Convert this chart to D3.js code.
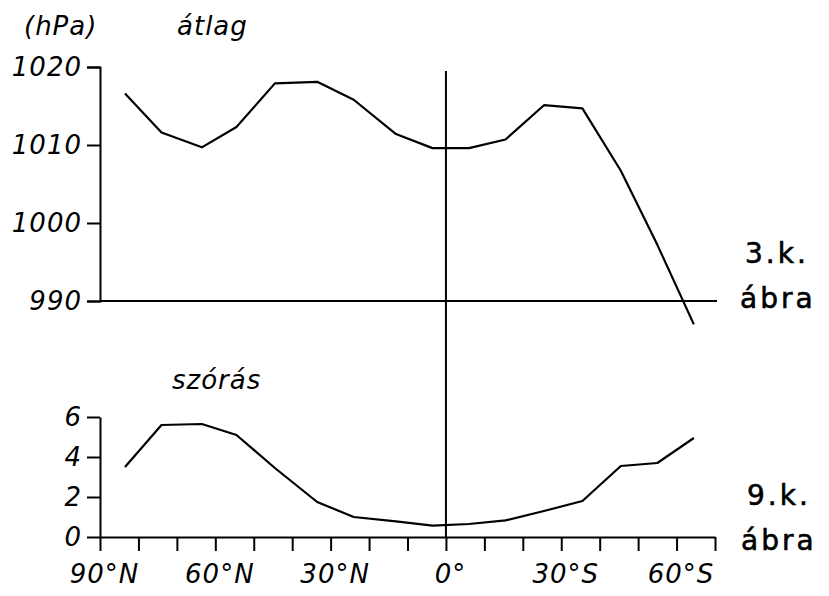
<html>
<head>
<meta charset="utf-8">
<script src="https://d3js.org/d3.v7.min.js"></script>
<style>
 body { margin: 0; background: #fff; }
 .lbl { font-family: "DejaVu Sans", sans-serif; font-style: oblique; font-size: 26px; letter-spacing: 1px; fill: #000; }
 .hand { font-family: "DejaVu Sans", sans-serif; font-size: 28px; letter-spacing: 3px; fill: #000; stroke: #000; stroke-width: 0.6px; }
 .axis path, .axis line { stroke: #000; stroke-width: 2px; }
 .axis text { font-family: "DejaVu Sans", sans-serif; font-style: oblique; font-size: 26px; letter-spacing: 1px; fill: #000; }
 .curve { fill: none; stroke: #000; stroke-width: 2.2px; stroke-linejoin: round; }
</style>
</head>
<body>
<script>
 // latitudes of the plotted points (N positive, S negative)
 var lats = [83.5, 74, 63.5, 54.5, 44.5, 33.5, 24, 13, 3.5, -6, -15.5, -25.5, -35.5, -45.5, -55, -64.5];
 // átlag (mean pressure, hPa)
 var meanP = [1016.6, 1011.6, 1009.7, 1012.3, 1017.9, 1018.1, 1015.8, 1011.4, 1009.6, 1009.6, 1010.7, 1015.1, 1014.7, 1006.7, 997.2, 987.0];
 // szórás (standard deviation, hPa)
 var stdP = [3.5, 5.6, 5.65, 5.1, 3.45, 1.75, 1.0, 0.78, 0.57, 0.65, 0.83, 1.3, 1.8, 3.55, 3.7, 4.95];
 var xTicks = [90, 80, 70, 60, 50, 40, 30, 20, 10, 0, -10, -20, -30, -40, -50, -60, -70];
 var xLabels = {"90": "90°N", "60": "60°N", "30": "30°N", "0": "0°", "-30": "30°S", "-60": "60°S"};
 var pTicks = [990, 1000, 1010, 1020];
 var sTicks = [0, 2, 4, 6];

 var w = 829, h = 596;
 var svg = d3.select("body").append("svg").attr("width", w).attr("height", h);

 var x = d3.scaleLinear().domain([90, -70]).range([100, 715]);
 var yP = d3.scaleLinear().domain([990, 1020]).range([301, 67]);
 var yS = d3.scaleLinear().domain([0, 6]).range([537, 417]);

 // top panel axis
 svg.append("g").attr("class", "axis")
    .attr("transform", "translate(100,0)")
    .call(d3.axisLeft(yP).tickValues(pTicks).tickSize(13).tickPadding(5).tickFormat(d3.format("d")));

 // 990 baseline
 svg.append("line")
    .attr("x1", x(90)).attr("x2", 717)
    .attr("y1", yP(990)).attr("y2", yP(990))
    .attr("stroke", "#000").attr("stroke-width", 2);

 // bottom panel axes
 svg.append("g").attr("class", "axis")
    .attr("transform", "translate(100,0)")
    .call(d3.axisLeft(yS).tickValues(sTicks).tickSize(13).tickPadding(5).tickSizeOuter(0)
      .tickFormat(d3.format("d")));

 var xa = svg.append("g").attr("class", "axis")
    .attr("transform", "translate(0," + yS(0) + ")")
    .call(d3.axisBottom(x).tickValues(xTicks).tickSize(14).tickSizeOuter(0)
      .tickFormat(function(d) { return xLabels[d] || ""; }));
 xa.selectAll("text").attr("y", 46).attr("dy", 0).attr("dx", 4);

 // equator line
 svg.append("line")
    .attr("x1", x(0)).attr("x2", x(0))
    .attr("y1", 71).attr("y2", yS(0))
    .attr("stroke", "#000").attr("stroke-width", 2);

 // curves
 var lineP = d3.line().x(function(d, i) { return x(lats[i]); }).y(function(d) { return yP(d); });
 var lineS = d3.line().x(function(d, i) { return x(lats[i]); }).y(function(d) { return yS(d); });
 svg.append("path").attr("class", "curve").attr("d", lineP(meanP));
 svg.append("path").attr("class", "curve").attr("d", lineS(stdP));

 // labels
 svg.append("text").attr("class", "lbl").attr("x", 24).attr("y", 35).text("(hPa)");
 svg.append("text").attr("class", "lbl").attr("x", 177).attr("y", 35).text("átlag");
 svg.append("text").attr("class", "lbl").attr("x", 172).attr("y", 389).text("szórás");

 svg.append("text").attr("class", "hand").attr("x", 745).attr("y", 263).text("3.k.");
 svg.append("text").attr("class", "hand").attr("x", 740).attr("y", 308).text("ábra");
 svg.append("text").attr("class", "hand").attr("x", 747).attr("y", 505).text("9.k.");
 svg.append("text").attr("class", "hand").attr("x", 741).attr("y", 550).text("ábra");
</script>
</body>
</html>
